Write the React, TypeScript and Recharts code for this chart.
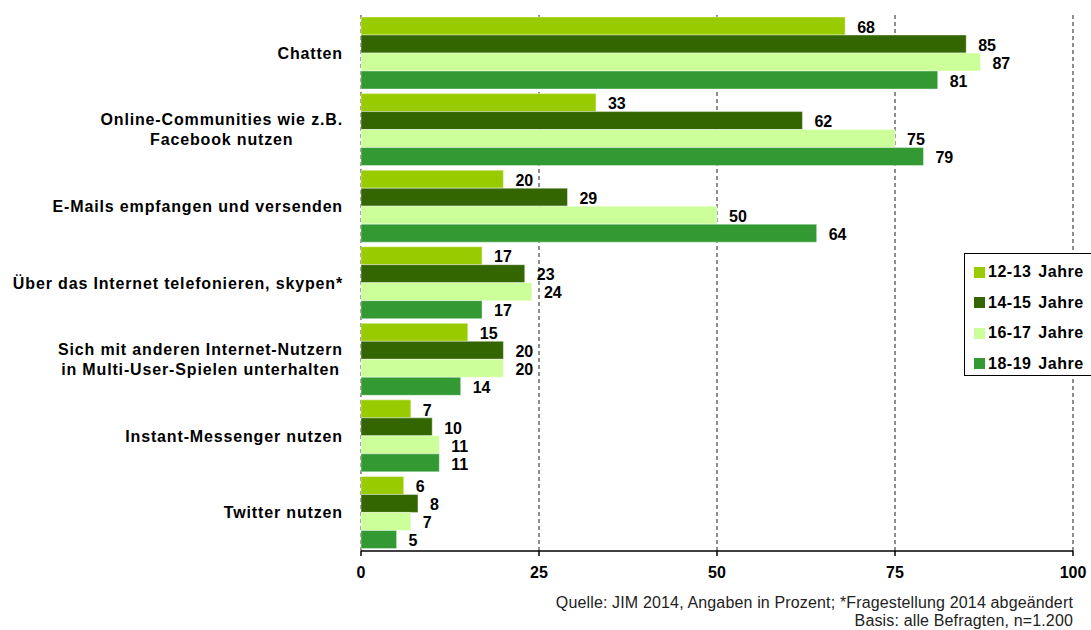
import React from "react";
import {
  BarChart,
  Bar,
  XAxis,
  YAxis,
  CartesianGrid,
  LabelList,
} from "recharts";

const categories = [
  "Chatten",
  "Online-Communities wie z.B.\nFacebook nutzen",
  "E-Mails empfangen und versenden",
  "Über das Internet telefonieren, skypen*",
  "Sich mit anderen Internet-Nutzern\nin Multi-User-Spielen unterhalten",
  "Instant-Messenger nutzen",
  "Twitter nutzen",
];

const seriesNames = ["12-13 Jahre", "14-15 Jahre", "16-17 Jahre", "18-19 Jahre"];
const age1213 = [68, 33, 20, 17, 15, 7, 6];
const age1415 = [85, 62, 29, 23, 20, 10, 8];
const age1617 = [87, 75, 50, 24, 20, 11, 7];
const age1819 = [81, 79, 64, 17, 14, 11, 5];
const xTicks = [0, 25, 50, 75, 100];
const boundaryTicks = [0, 1, 2, 3, 4, 5, 6, 7];

const colors = ["#99CC00", "#336600", "#CCFF99", "#339933"];
const FONT = "'Liberation Sans', Arial, Helvetica, sans-serif";
const CAT_LS = 0.85;

const data = categories.map((c, i) => ({
  name: c,
  s1: age1213[i],
  s2: age1415[i],
  s3: age1617[i],
  s4: age1819[i],
}));

let ctx: CanvasRenderingContext2D | null = null;
function measure(text: string): number {
  if (!ctx) {
    const c = document.createElement("canvas");
    ctx = c.getContext("2d");
  }
  if (!ctx) return text.length * 8;
  ctx.font = `bold 16px ${FONT}`;
  return ctx.measureText(text).width + text.length * CAT_LS;
}

const CategoryTick = (props: any) => {
  const { x, y, payload } = props;
  const lines: string[] = String(payload.value).split("\n");
  const maxW = Math.max(...lines.map((l) => measure(l)));
  const cx = x - maxW / 2;
  const lh = 20;
  const start = y - ((lines.length - 1) * lh) / 2 + 5.5;
  return (
    <g>
      {lines.map((l, i) => (
        <text
          key={i}
          x={cx}
          y={start + i * lh}
          textAnchor="middle"
          fontFamily={FONT}
          fontWeight="bold"
          fontSize={16}
          letterSpacing={CAT_LS}
          fill="#000"
        >
          {l}
        </text>
      ))}
    </g>
  );
};

const LegendBox = () => (
  <div
    style={{
      position: "absolute",
      left: 964,
      top: 253,
      border: "1.5px solid #000",
      background: "#fff",
      width: 140,
      height: 123,
      boxSizing: "border-box",
      paddingTop: 3,
      fontFamily: FONT,
    }}
  >
    {seriesNames.map((n, i) => (
      <div
        key={n}
        style={{
          display: "flex",
          alignItems: "center",
          height: 30.5,
          paddingLeft: 9,
        }}
      >
        <span
          style={{
            display: "inline-block",
            width: 11,
            height: 11,
            background: colors[i],
            marginRight: 3,
          }}
        />
        <span
          style={{
            fontWeight: "bold",
            fontSize: 16,
            color: "#000",
            whiteSpace: "pre",
            letterSpacing: 0.5,
            wordSpacing: 2,
          }}
        >
          {n}
        </span>
      </div>
    ))}
  </div>
);

export default function App() {
  const keys = ["s1", "s2", "s3", "s4"];
  const foot: React.CSSProperties = {
    position: "absolute",
    right: 1091 - 1073,
    fontFamily: FONT,
    fontSize: 16,
    letterSpacing: 0.15,
    color: "#222",
    whiteSpace: "nowrap",
    lineHeight: "18px",
    textAlign: "right",
  };
  return (
    <div
      style={{
        position: "absolute",
        left: 0,
        top: 0,
        width: 1091,
        height: 630,
        overflow: "hidden",
        background: "#fff",
      }}
    >
      <BarChart
        width={1091}
        height={630}
        data={data}
        layout="vertical"
        margin={{ top: 15, right: 18, bottom: 49, left: 0 }}
        barCategoryGap={2}
        barGap={0}
      >
        <CartesianGrid
          horizontal={false}
          vertical={true}
          stroke="#444"
          strokeDasharray="4 3"
          strokeWidth={1.2}
        />
        <XAxis
          type="number"
          domain={[0, 100]}
          ticks={xTicks}
          interval={0}
          height={30}
          axisLine={{ stroke: "#000", strokeWidth: 1.5 }}
          tickLine={{ stroke: "#000", strokeWidth: 1.5 }}
          tickSize={5}
          tickMargin={11}
          tick={{
            fontFamily: FONT,
            fontWeight: "bold",
            fontSize: 16,
            fill: "#000",
          }}
        />
        <YAxis
          yAxisId="b"
          type="number"
          domain={[0, 7]}
          ticks={boundaryTicks}
          interval={0}
          width={0}
          orientation="left"
          axisLine={{ stroke: "#000", strokeWidth: 1.5 }}
          tickLine={{ stroke: "#000", strokeWidth: 1.5 }}
          tickSize={5}
          tick={() => <g />}
        />
        <YAxis
          type="category"
          dataKey="name"
          width={361}
          axisLine={false}
          tickLine={false}
          tickSize={0}
          tickMargin={18}
          interval={0}
          tick={<CategoryTick />}
        />
        {keys.map((k, i) => (
          <Bar
            key={k}
            dataKey={k}
            name={seriesNames[i]}
            fill={colors[i]}
            stroke="#ffffff"
            strokeOpacity={0.5}
            strokeWidth={0.8}
            isAnimationActive={false}
          >
            <LabelList
              dataKey={k}
              position="right"
              offset={12}
              dy={1}
              style={{
                fontFamily: FONT,
                fontWeight: "bold",
                fontSize: 16,
                fill: "#000",
              }}
            />
          </Bar>
        ))}
      </BarChart>
      <LegendBox />
      <div style={{ ...foot, top: 594 }}>
        Quelle: JIM 2014, Angaben in Prozent; *Fragestellung 2014 abgeändert
      </div>
      <div style={{ ...foot, top: 612 }}>Basis: alle Befragten, n=1.200</div>
    </div>
  );
}
